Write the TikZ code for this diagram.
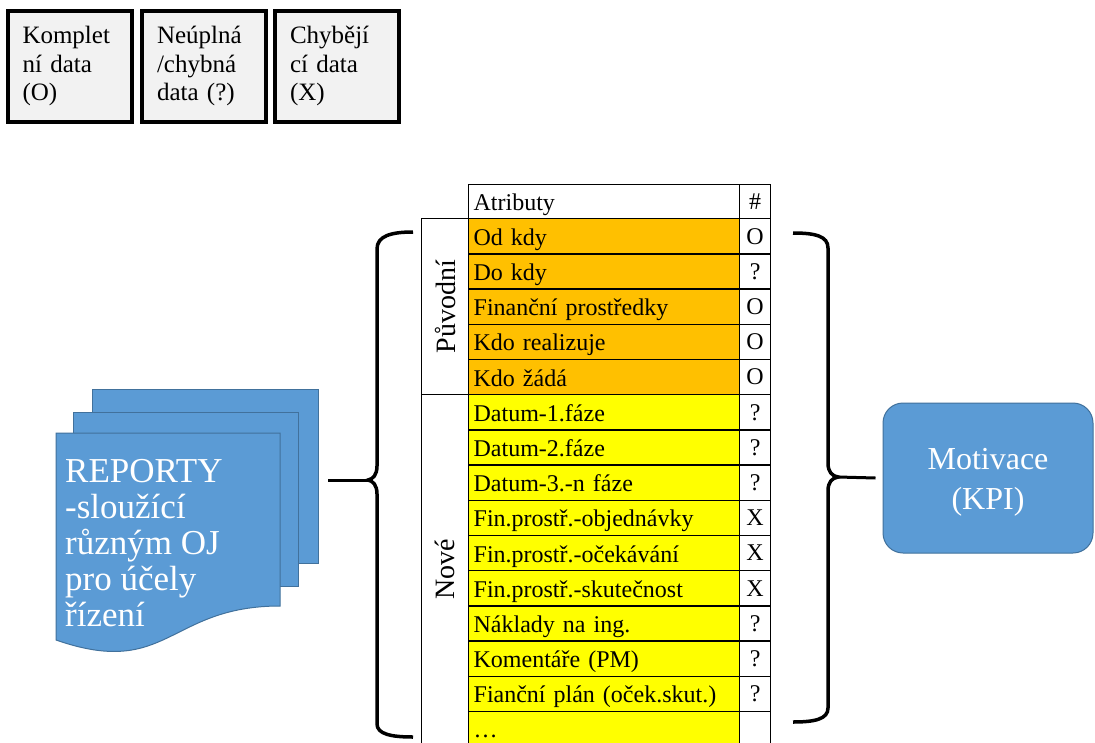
\documentclass[tikz,border=0pt]{standalone}
\usepackage{fontspec}
\setmainfont{Liberation Serif}
\definecolor{offblue}{HTML}{5B9BD5}
\definecolor{offline}{HTML}{41719C}
\definecolor{orng}{HTML}{FFC000}
\definecolor{yell}{HTML}{FFFF00}
\definecolor{lgray}{HTML}{F2F2F2}
\begin{document}
\begin{tikzpicture}[x=1pt,y=-1pt,
  legendbox/.style={draw=black, line width=4pt, fill=lgray, minimum height=111pt,
    text width=94pt, inner xsep=15pt, align=left, font=\fontsize{25}{28.5}\selectfont},
  attr/.style={draw=black, line width=1.3pt, anchor=north west, minimum height=35.2pt,
    text width=261pt, inner xsep=5pt, inner ysep=0pt, text height=21pt, text depth=3pt,
    align=left, font=\fontsize{24}{26}\selectfont},
  val/.style={draw=black, line width=1.3pt, anchor=north west, minimum width=31pt,
    minimum height=35.2pt, inner sep=0pt, fill=white, font=\fontsize{24}{26}\selectfont},
  grp/.style={draw=black, line width=1.3pt, anchor=north west, fill=white, minimum width=47pt, inner sep=0pt},
  grplabel/.style={rotate=90, font=\fontsize{28}{30}\selectfont},
  sheet/.style={fill=offblue, draw=offline, line width=1pt},
  reptext/.style={text=white, inner sep=0pt, align=left, font=\fontsize{35}{36.2}\selectfont},
  mot/.style={fill=offblue, draw=offline, line width=1pt, rounded corners=20pt,
    minimum width=210pt, minimum height=150pt},
  mottext/.style={text=white, align=center, inner sep=0pt, font=\fontsize{32}{40}\selectfont},
  brace/.style={draw=black, line width=3.5pt},
  conn/.style={draw=black, line width=3pt}
]
\useasboundingbox (0,0) rectangle (1095,742);
\clip (0,0) rectangle (1095,742);
\fill[white] (0,0) rectangle (1095,742);

% legend
\node[legendbox] (l1) at (69.5,66) {Komplet\\ní data\\(O)};
\node[legendbox] (l2) at (204,66) {Neúplná\\/chybná\\data (?)};
\node[legendbox] (l3) at (337,66) {Chybějí\\cí data\\(X)};

% table
\node[grp, minimum height=176pt] (gP) at (421,218) {};
\node[grplabel] at (gP.center) {Původní};
\node[grp, minimum height=352pt] (gN) at (421,394) {};
\node[grplabel] at ([yshift=1pt]gN.center) {Nové};

\node[attr, fill=white, minimum height=34pt] (hA) at (468,184) {Atributy};
\node[val, minimum height=34pt] (hV) at (739,184) {\#};

\foreach [count=\i] \c/\t/\v in {
  orng/Od kdy/O, orng/Do kdy/?, orng/Finanční prostředky/O, orng/Kdo realizuje/O, orng/Kdo žádá/O,
  yell/Datum-1.fáze/?, yell/Datum-2.fáze/?, yell/Datum-3.-n fáze/?,
  yell/Fin.prostř.-objednávky/X, yell/Fin.prostř.-očekávání/X, yell/Fin.prostř.-skutečnost/X,
  yell/Náklady na ing./?, yell/Komentáře (PM)/?, yell/Fianční plán (oček.skut.)/?}
{
  \node[attr, fill=\c] (a\i) at (468, {218+(\i-1)*35.2}) {\t};
  \node[val] (v\i) at (739, {218+(\i-1)*35.2}) {\v};
}
\node[attr, fill=yell, text height=20pt, text depth=4pt] (a15) at (468,710.8) {\dots};
\node[val] (v15) at (739,710.8) {};

% reports (multidocument)
\node[sheet, anchor=north west, minimum width=226pt, minimum height=174pt, inner sep=0pt] (s3) at (92,389) {};
\node[sheet, anchor=north west, minimum width=225pt, minimum height=174pt, inner sep=0pt] (s2) at (73,412) {};
\draw[sheet] (56,433) -- (280,433) -- (280,606) .. controls (168,606) and (168,679) .. (56,640) -- cycle;
\node[reptext, anchor=west] (rep) at (65,543) {REPORTY\\-sloužící\\různým OJ\\pro účely\\řízení};

% motivace
\node[mot] (motv) at (988,478) {};
\node[mottext] (motl) at ([yshift=-4pt]motv.center) {Motivace\\(KPI)};

% left brace
\coordinate (lbtip) at (368,480);
\coordinate (lbend) at (328,480);
\draw[brace] (413,232) .. controls (391,232) and (377,236) .. (377,249) -- (377,466)
  .. controls (377,475) and (373,479) .. (lbtip)
  .. controls (373,481) and (377,485) .. (377,494) -- (377,724)
  .. controls (377,734) and (391,737) .. (413,737);
\draw[conn] (lbend) -- (lbtip);

% right brace
\coordinate (rbtip) at (838,477);
\draw[brace] (793,233) .. controls (815,233) and (828,236) .. (828,248) -- (828,463)
  .. controls (828,472) and (832,476) .. (rbtip)
  .. controls (832,478) and (828,482) .. (828,491) -- (828,708)
  .. controls (828,719) and (815,722) .. (793,722);
\draw[conn] (rbtip) -- ([xshift=-7pt]motv.west);
\end{tikzpicture}
\end{document}
